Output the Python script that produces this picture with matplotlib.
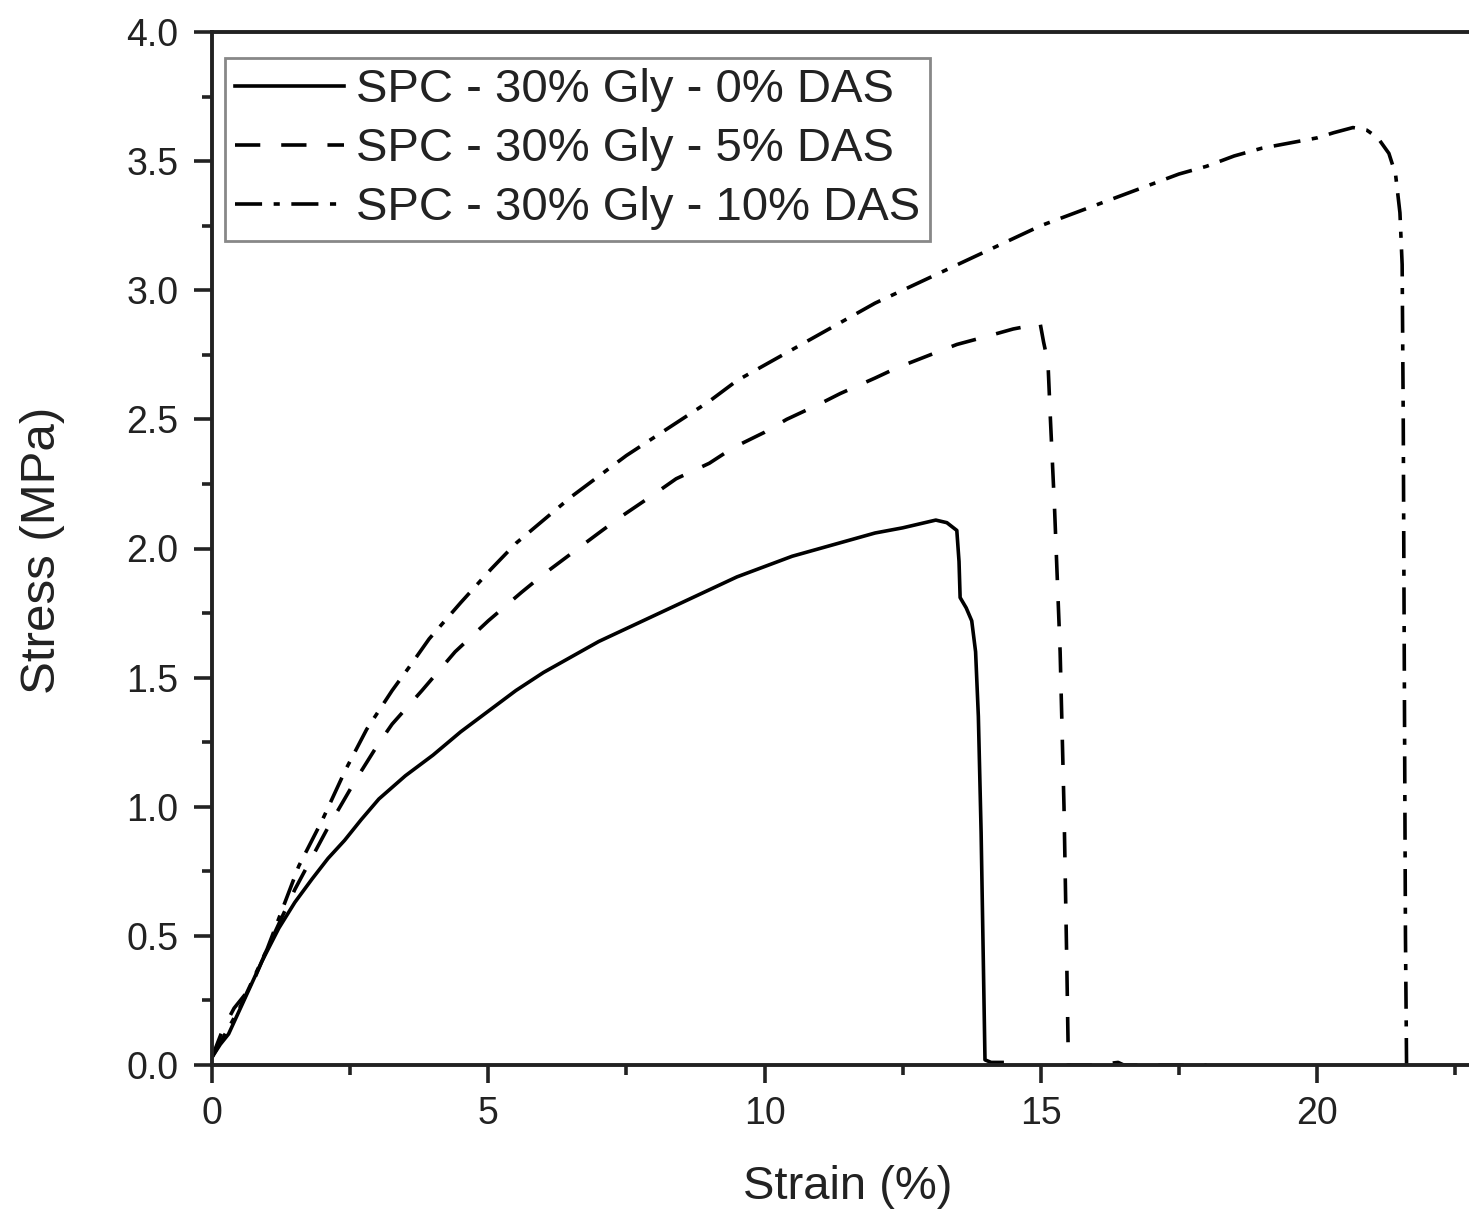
import matplotlib
matplotlib.use("Agg")
import matplotlib.pyplot as plt
from matplotlib.ticker import MultipleLocator

plt.rcParams['font.family'] = ['Liberation Sans', 'DejaVu Sans']

labels = ["SPC - 30% Gly - 0% DAS", "SPC - 30% Gly - 5% DAS", "SPC - 30% Gly - 10% DAS"]

strain_0 = [0, 0.15, 0.3, 0.6, 0.9, 1.21, 1.5, 1.81, 2.1, 2.4, 2.7, 3.02, 3.5, 4.0, 4.5, 5.0, 5.5,
            6.0, 6.5, 7.0, 7.5, 8.0, 8.5, 9.0, 9.5, 10.0, 10.5, 11.0, 11.5, 12.0, 12.5, 13.1, 13.3,
            13.48, 13.52, 13.54, 13.65, 13.75, 13.82, 13.87, 13.92, 13.96, 13.99, 14.1, 14.3]
stress_0 = [0.03, 0.08, 0.12, 0.26, 0.40, 0.53, 0.63, 0.72, 0.80, 0.87, 0.95, 1.03, 1.12, 1.20, 1.29,
            1.37, 1.45, 1.52, 1.58, 1.64, 1.69, 1.74, 1.79, 1.84, 1.89, 1.93, 1.97, 2.00, 2.03, 2.06,
            2.08, 2.11, 2.10, 2.07, 1.95, 1.81, 1.77, 1.72, 1.6, 1.35, 0.9, 0.4, 0.02, 0.01, 0.01]

strain_5 = [0, 0.2, 0.4, 0.7, 1.0, 1.5, 1.8, 2.1, 2.59, 3.0, 3.26, 3.8, 4.4, 5.0, 5.6, 6.0, 6.5, 7.0,
            7.38, 8.0, 8.4, 9.0, 9.43, 10.0, 10.4, 11.0, 11.37, 12.0, 12.4, 13.0, 13.48, 14.0, 14.5,
            14.99, 15.05, 15.13, 15.17, 15.25, 15.35, 15.42, 15.47, 15.5, 16.0, 16.4, 16.5, 18.0]
stress_5 = [0.03, 0.14, 0.22, 0.30, 0.45, 0.68, 0.80, 0.92, 1.10, 1.24, 1.32, 1.45, 1.60, 1.72, 1.83,
            1.90, 1.98, 2.06, 2.12, 2.21, 2.27, 2.33, 2.39, 2.45, 2.50, 2.56, 2.60, 2.66, 2.70, 2.75,
            2.79, 2.82, 2.85, 2.87, 2.80, 2.72, 2.52, 2.15, 1.6, 1.0, 0.4, 0.0, 0.0, 0.01, 0.0, 0.0]

strain_10 = [0, 0.5, 1.0, 1.57, 2.0, 2.41, 2.8, 3.26, 3.6, 3.93, 4.5, 5.05, 5.5, 6.0, 6.5, 7.0, 7.5,
             8.0, 8.5, 9.0, 9.5, 10.0, 10.5, 11.0, 11.5, 12.0, 12.5, 13.0, 13.5, 14.0, 14.5, 15.0,
             15.5, 16.0, 16.5, 17.0, 17.5, 18.0, 18.5, 19.0, 19.5, 20.0, 20.3, 20.65, 20.9, 21.1,
             21.3, 21.42, 21.5, 21.54, 21.56, 21.58, 21.6, 21.62]
stress_10 = [0.03, 0.22, 0.45, 0.77, 0.95, 1.14, 1.30, 1.45, 1.55, 1.65, 1.79, 1.92, 2.02, 2.11, 2.20,
             2.28, 2.36, 2.43, 2.50, 2.57, 2.65, 2.71, 2.77, 2.83, 2.89, 2.95, 3.00, 3.05, 3.10, 3.15,
             3.20, 3.25, 3.29, 3.33, 3.37, 3.41, 3.45, 3.48, 3.52, 3.55, 3.57, 3.59, 3.61, 3.63, 3.62,
             3.59, 3.53, 3.45, 3.30, 3.1, 2.5, 1.5, 0.5, 0.0]

fig = plt.figure(figsize=(14.69, 12.17), dpi=100)
ax = fig.add_axes([212/1469, (1217-1065)/1217, 1 - 212/1469, (1065-32)/1217])

lw = 2.6
ax.plot(strain_0, stress_0, color='black', lw=lw, linestyle='-', label=labels[0])
ax.plot(strain_5, stress_5, color='black', lw=lw, linestyle=(0, (7, 5.8)), label=labels[1])
ax.plot(strain_10, stress_10, color='black', lw=lw, linestyle=(0, (7.5, 3.2, 1.7, 3.2)), label=labels[2])

ax.set_xlim(0, 22.75)
ax.set_ylim(0, 4.0)
ax.xaxis.set_major_locator(MultipleLocator(5))
ax.xaxis.set_minor_locator(MultipleLocator(2.5))
ax.yaxis.set_major_locator(MultipleLocator(0.5))
ax.yaxis.set_minor_locator(MultipleLocator(0.25))
ax.yaxis.set_major_formatter(plt.FuncFormatter(lambda v, p: f"{v:.1f}"))

ax.tick_params(axis='both', which='major', direction='out', length=13, width=2.6,
               labelsize=27, top=False, right=False, colors='#222222', labelcolor='#222222')
ax.tick_params(axis='x', which='major', pad=9)
ax.tick_params(axis='y', which='major', pad=11)
ax.tick_params(axis='both', which='minor', direction='out', length=7, width=2.6,
               top=False, right=False, colors='#222222')

for s in ['left', 'bottom', 'top']:
    ax.spines[s].set_linewidth(2.8)
    ax.spines[s].set_color('#222222')
ax.spines['right'].set_visible(False)

ax.set_xlabel("Strain (%)", fontsize=34, color='#222222')
ax.set_ylabel("Stress (MPa)", fontsize=35.5, color='#222222')
ax.xaxis.set_label_coords(0.5 + (848 - 212 - 1257 / 2) / 1257, -0.097)
ax.yaxis.set_label_coords(-0.117, 0.5 + (1065 - 550 - 1033 / 2) / 1033)

leg = ax.legend(loc='upper left', bbox_to_anchor=(0.0103, 0.975), fontsize=34,
                frameon=True, fancybox=False, edgecolor='#888888', framealpha=1,
                handlelength=2.3, handletextpad=0.25, borderpad=0.22, labelspacing=0.32,
                borderaxespad=0)
leg.get_frame().set_linewidth(2)
for t in leg.get_texts():
    t.set_color('#222222')

fig.savefig("out.png", dpi=100)
